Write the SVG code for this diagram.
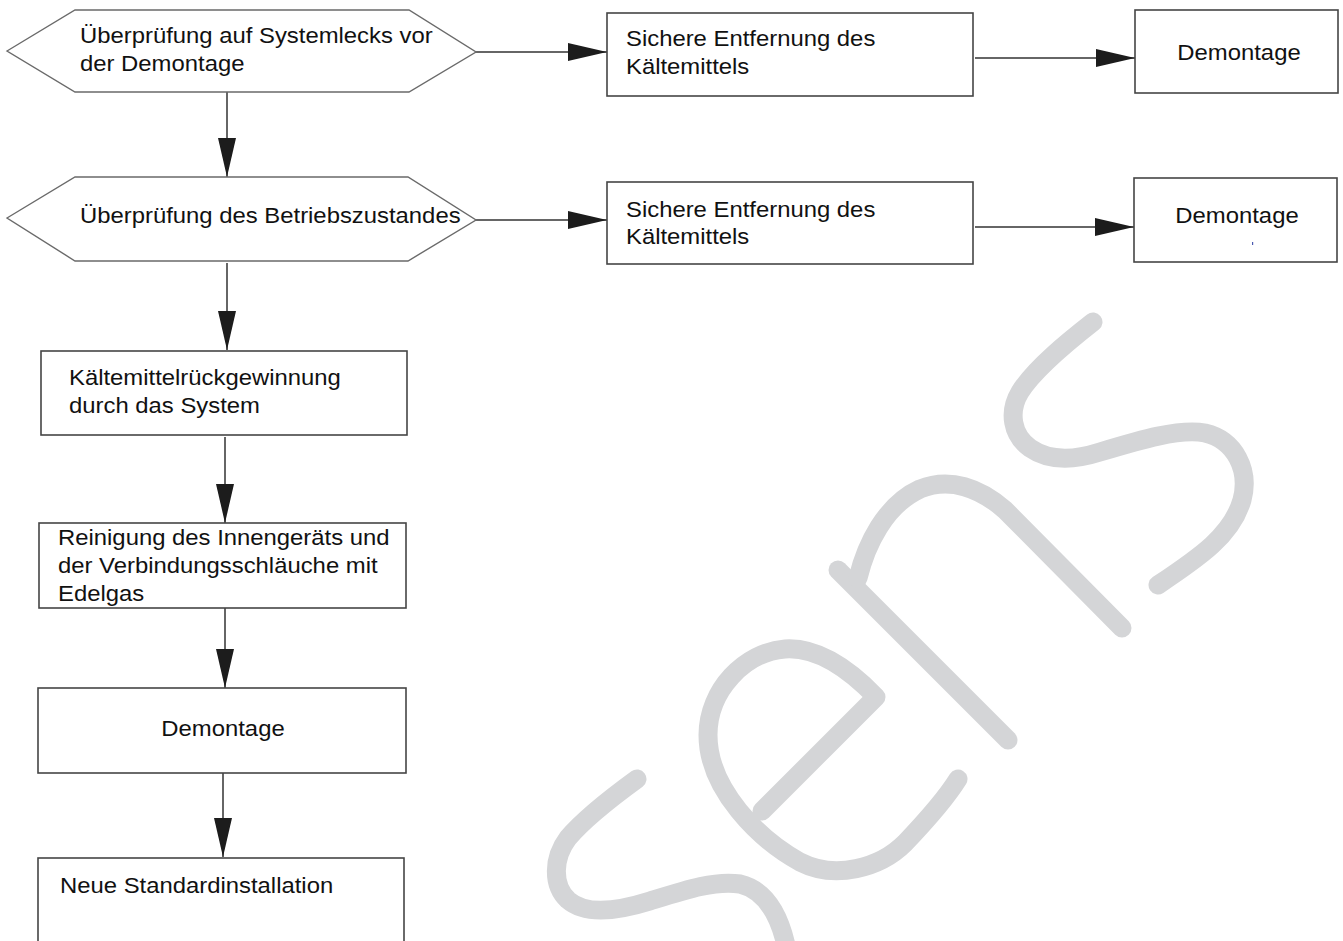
<svg xmlns="http://www.w3.org/2000/svg" width="1343" height="941" viewBox="0 0 1343 941">
<style>
.bg{fill:#ffffff}
.wm{fill:none;stroke:#d4d5d7;stroke-width:19;stroke-linecap:round;stroke-linejoin:round}
.hex{fill:none;stroke:#6a6a6a;stroke-width:1.4}
.box{fill:none;stroke:#454545;stroke-width:1.6}
.con{fill:none;stroke:#333333;stroke-width:1.5}
.lbl{font-family:"Liberation Sans",Arial,Helvetica,sans-serif;font-size:21.5px;fill:#111111}
</style>
<defs>
<marker id="ah" markerUnits="userSpaceOnUse" markerWidth="40" markerHeight="18" refX="39" refY="9" orient="auto">
<path d="M0,0 L39,9 L0,18 Z" fill="#1c1c1c"/>
</marker>
</defs>
<rect class="bg" x="0" y="0" width="1343" height="941"/>
<g id="watermark">
<path class="wm" d="M1093,322 C1070,340 1035,368 1020,392 C1008,412 1012,435 1030,448 C1050,462 1075,460 1100,452 C1140,440 1180,428 1205,433 C1235,440 1250,470 1242,500 C1232,535 1200,557 1158,585"/>
<path class="wm" d="M838,570 L1008,740"/>
<path class="wm" d="M858,578 C866,545 885,505 920,489 C950,477 980,488 1005,510 L1122,628"/>
<path class="wm" d="M762,811 L876,697 C845,665 815,647 785,649 C745,652 708,690 708,735 C708,790 760,840 800,862 C835,880 880,868 905,843 C925,822 945,800 958,779"/>
<path class="wm" d="M637,779 C615,795 585,818 568,838 C553,858 552,885 568,900 C585,915 615,912 650,901 C685,890 715,880 740,884 C765,890 780,915 787,950"/>
</g>
<g id="connectors">
<line class="con" x1="476" y1="52" x2="607" y2="52" marker-end="url(#ah)"/>
<line class="con" x1="975" y1="58" x2="1135" y2="58" marker-end="url(#ah)"/>
<line class="con" x1="227" y1="92" x2="227" y2="177" marker-end="url(#ah)"/>
<line class="con" x1="476" y1="220" x2="607" y2="220" marker-end="url(#ah)"/>
<line class="con" x1="975" y1="227" x2="1134" y2="227" marker-end="url(#ah)"/>
<line class="con" x1="227" y1="263" x2="227" y2="350" marker-end="url(#ah)"/>
<line class="con" x1="225" y1="437" x2="225" y2="523" marker-end="url(#ah)"/>
<line class="con" x1="225" y1="608" x2="225" y2="688" marker-end="url(#ah)"/>
<line class="con" x1="223" y1="773" x2="223" y2="857" marker-end="url(#ah)"/>
</g>
<g id="n1">
<polygon class="hex" points="7,51 75,10 409,10 476,52 409,92 75,92"/>
<text class="lbl" transform="translate(80,43) scale(1.11,1)">Überprüfung auf Systemlecks vor</text>
<text class="lbl" transform="translate(80,71) scale(1.11,1)">der Demontage</text>
</g>
<g id="n2">
<rect class="box" x="607" y="13" width="366" height="83"/>
<text class="lbl" transform="translate(626,46) scale(1.11,1)">Sichere Entfernung des</text>
<text class="lbl" transform="translate(626,74) scale(1.11,1)">Kältemittels</text>
</g>
<g id="n3">
<rect class="box" x="1135" y="10" width="203" height="83"/>
<text class="lbl" text-anchor="middle" transform="translate(1239,60) scale(1.11,1)">Demontage</text>
</g>
<g id="n4">
<polygon class="hex" points="7,218 75,177 408,177 476,220 408,261 75,261"/>
<text class="lbl" transform="translate(80,223) scale(1.11,1)">Überprüfung des Betriebszustandes</text>
</g>
<g id="n5">
<rect class="box" x="607" y="182" width="366" height="82"/>
<text class="lbl" transform="translate(626,217) scale(1.11,1)">Sichere Entfernung des</text>
<text class="lbl" transform="translate(626,244) scale(1.11,1)">Kältemittels</text>
</g>
<g id="n6">
<rect class="box" x="1134" y="178" width="203" height="84"/>
<text class="lbl" text-anchor="middle" transform="translate(1237,223) scale(1.11,1)">Demontage</text>
<rect x="1252" y="242" width="1.2" height="3" fill="#4a5ab0"/>
</g>
<g id="n7">
<rect class="box" x="41" y="351" width="366" height="84"/>
<text class="lbl" transform="translate(69,385) scale(1.11,1)">Kältemittelrückgewinnung</text>
<text class="lbl" transform="translate(69,413) scale(1.11,1)">durch das System</text>
</g>
<g id="n8">
<rect class="box" x="39" y="523" width="367" height="85"/>
<text class="lbl" transform="translate(58,545) scale(1.11,1)">Reinigung des Innengeräts und</text>
<text class="lbl" transform="translate(58,573) scale(1.11,1)">der Verbindungsschläuche mit</text>
<text class="lbl" transform="translate(58,601) scale(1.11,1)">Edelgas</text>
</g>
<g id="n9">
<rect class="box" x="38" y="688" width="368" height="85"/>
<text class="lbl" text-anchor="middle" transform="translate(223,736) scale(1.11,1)">Demontage</text>
</g>
<g id="n10">
<rect class="box" x="38" y="858" width="366" height="90"/>
<text class="lbl" transform="translate(60,893) scale(1.11,1)">Neue Standardinstallation</text>
</g>
</svg>
